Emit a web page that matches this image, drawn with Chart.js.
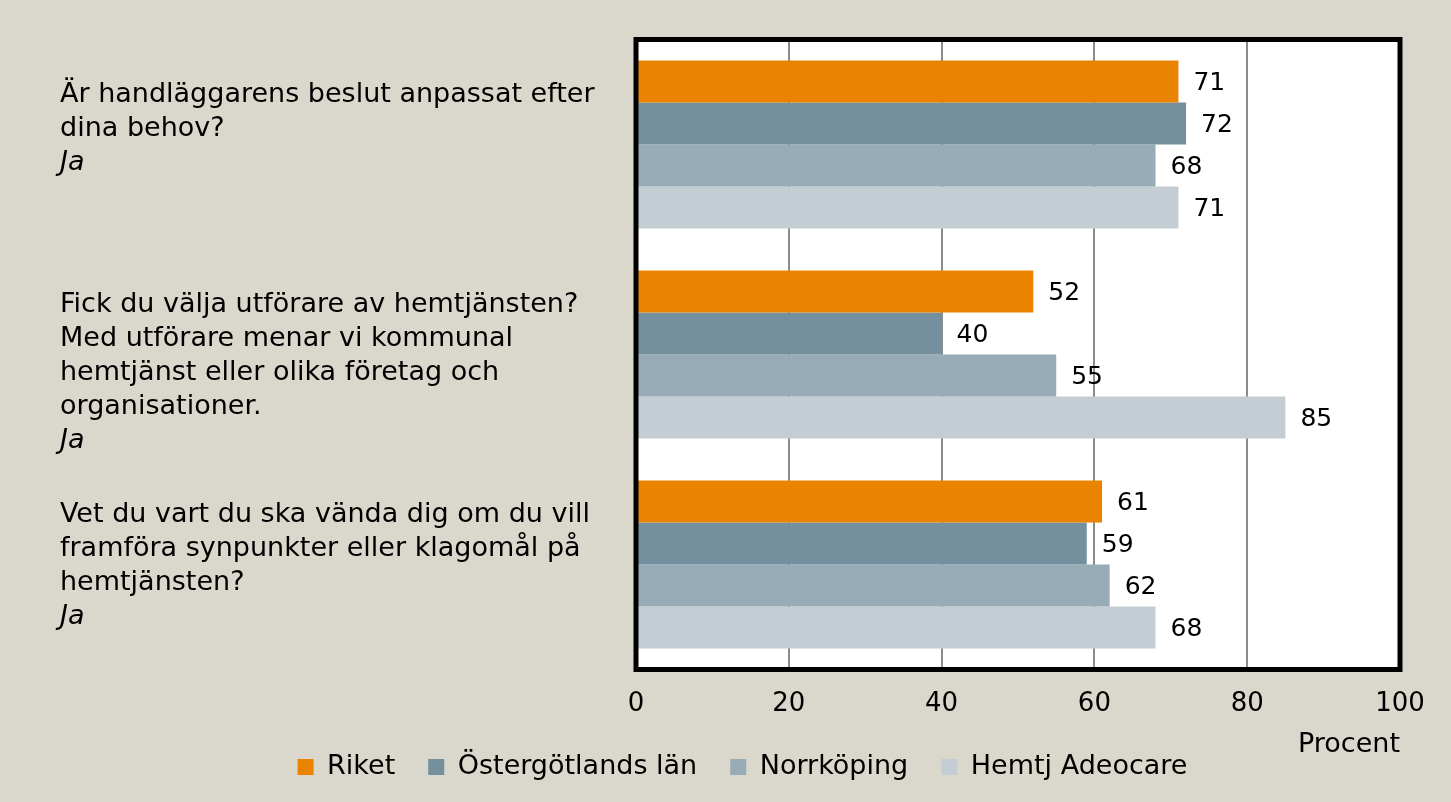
<!DOCTYPE html>
<html>
<head>
<meta charset="utf-8">
<script src="https://cdn.jsdelivr.net/npm/chart.js@4"></script>
<style>
  html, body { margin: 0; padding: 0; background: #DAD8CC; }
  canvas { display: block; }
</style>
</head>
<body>
<canvas id="c" width="1451" height="802"></canvas>
<script>
// ---- data ----
const categories = [
  ["Är handläggarens beslut anpassat efter", "dina behov?"],
  ["Fick du välja utförare av hemtjänsten?", "Med utförare menar vi kommunal", "hemtjänst eller olika företag och", "organisationer."],
  ["Vet du vart du ska vända dig om du vill", "framföra synpunkter eller klagomål på", "hemtjänsten?"]
];
const answers = ["Ja", "Ja", "Ja"];
const seriesNames = ["Riket", "Östergötlands län", "Norrköping", "Hemtj Adeocare"];
const riket = [71, 52, 61];
const ostergotland = [72, 40, 59];
const norrkoping = [68, 55, 62];
const adeocare = [71, 85, 68];
const xTicks = [0, 20, 40, 60, 80, 100];
const axisTitle = "Procent";

// ---- styles ----
const FONT = "'DejaVu Sans', 'Open Sans', sans-serif";
const colors = ["#E98300", "#748F9D", "#98ACB7", "#C3CDD3"];
const seriesValues = [riket, ostergotland, norrkoping, adeocare];

Chart.defaults.font.family = FONT;
Chart.defaults.color = "#000";

const bgPlugin = {
  id: "bg",
  beforeDraw(chart) {
    const { ctx, chartArea: a } = chart;
    ctx.save();
    ctx.fillStyle = "#DAD8CC";
    ctx.fillRect(0, 0, chart.width, chart.height);
    ctx.fillStyle = "#FFFFFF";
    ctx.fillRect(a.left, a.top, a.right - a.left, a.bottom - a.top);
    ctx.restore();
  }
};

const decoPlugin = {
  id: "deco",
  afterDatasetsDraw(chart) {
    const { ctx, chartArea: a } = chart;
    ctx.save();
    // value labels
    ctx.font = "25px " + FONT;
    ctx.fillStyle = "#000";
    ctx.textAlign = "left";
    ctx.textBaseline = "middle";
    chart.data.datasets.forEach((ds, di) => {
      const meta = chart.getDatasetMeta(di);
      meta.data.forEach((bar, i) => {
        ctx.fillText(String(ds.data[i]), bar.x + 15, bar.y + 2);
      });
    });
    // plot frame
    ctx.strokeStyle = "#000";
    ctx.lineWidth = 5;
    ctx.strokeRect(a.left, a.top, a.right - a.left, a.bottom - a.top);
    ctx.restore();
  },
  afterDraw(chart) {
    const { ctx } = chart;
    const y = chart.scales.y;
    const band = (y.bottom - y.top) / categories.length;
    const lineH = 34;
    ctx.save();
    ctx.fillStyle = "#000";
    ctx.textAlign = "left";
    ctx.textBaseline = "middle";
    categories.forEach((lines, i) => {
      const start = y.getPixelForValue(i) - band / 2;
      let ly = start + 55;
      ctx.font = "27px " + FONT;
      lines.forEach(t => { ctx.fillText(t, 60, ly); ly += lineH; });
      ctx.font = "italic 27px " + FONT;
      ctx.fillText(answers[i], 60, ly);
    });
    ctx.restore();
  }
};

new Chart(document.getElementById("c"), {
  type: "bar",
  data: {
    labels: categories.map(c => c.join(" ")),
    datasets: seriesNames.map((name, k) => ({
      label: name,
      data: seriesValues[k],
      backgroundColor: colors[k],
      borderWidth: 0,
      categoryPercentage: 0.8,
      barPercentage: 1.0
    }))
  },
  options: {
    indexAxis: "y",
    responsive: false,
    animation: false,
    devicePixelRatio: 1,
    layout: { padding: { left: 85, right: 51, top: 39.5, bottom: 11.5 } },
    plugins: {
      tooltip: { enabled: false },
      legend: {
        position: "bottom",
        labels: {
          font: { size: 27, family: FONT },
          color: "#000",
          boxWidth: 16,
          boxHeight: 16,
          padding: 33
        }
      }
    },
    scales: {
      x: {
        min: xTicks[0],
        max: xTicks[xTicks.length - 1],
        afterBuildTicks(s) { s.ticks = xTicks.map(v => ({ value: v })); },
        afterFit(s) { s.height = 51; },
        grid: { color: "#8C8C8C", lineWidth: 2, drawTicks: false },
        border: { display: false },
        ticks: { font: { size: 26, family: FONT }, color: "#000", padding: 19 },
        title: {
          display: true,
          text: axisTitle,
          align: "end",
          color: "#000",
          font: { size: 27, family: FONT },
          padding: { top: 0, bottom: -40.7 }
        }
      },
      y: {
        afterFit(s) { s.width = 551; },
        grid: { display: false },
        border: { display: false },
        ticks: { display: false }
      }
    }
  },
  plugins: [bgPlugin, decoPlugin]
});
</script>
</body>
</html>
